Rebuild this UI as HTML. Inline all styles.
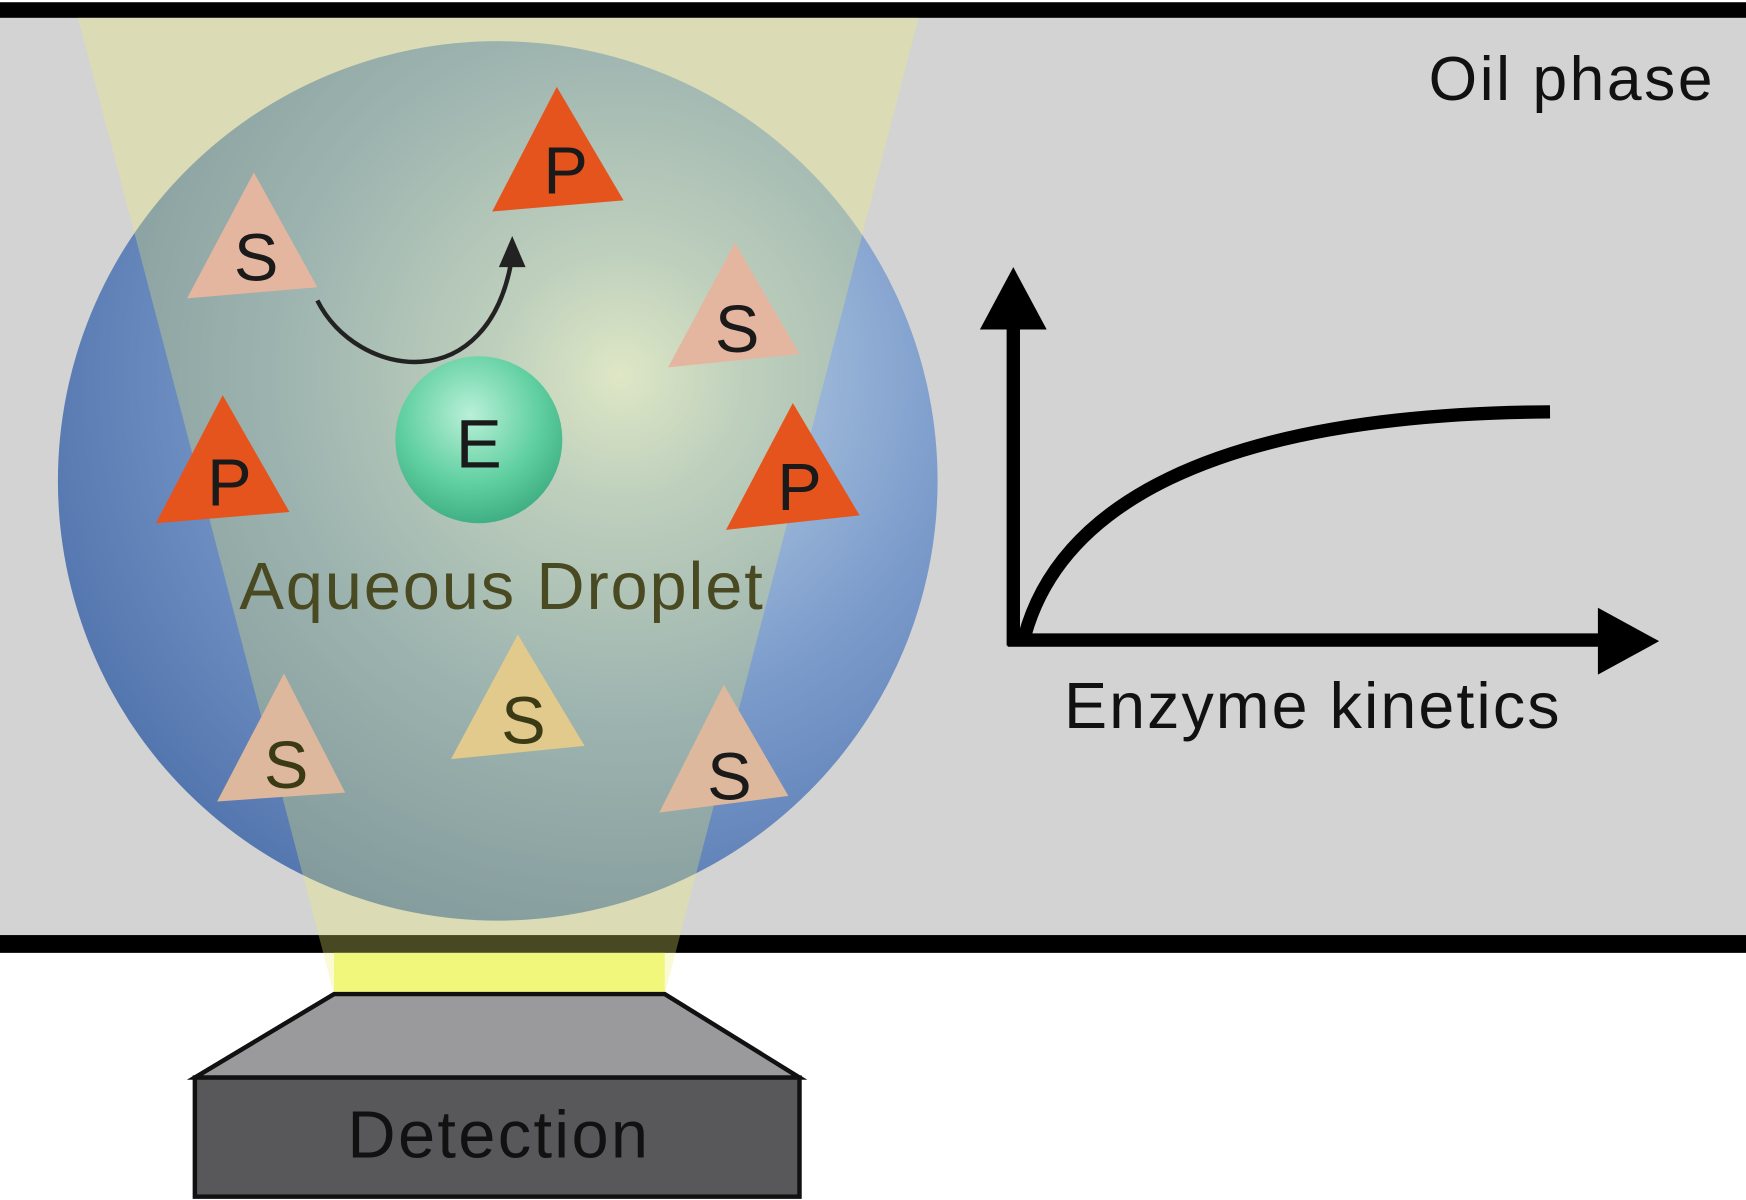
<!DOCTYPE html>
<html><head><style>html,body{margin:0;padding:0;background:#fff}svg{display:block}</style></head>
<body>
<svg width="1746" height="1200" viewBox="0 0 1568 1078" preserveAspectRatio="none" xmlns="http://www.w3.org/2000/svg" font-family="Liberation Sans, sans-serif">
<defs>
<radialGradient id="drop" cx="0.64" cy="0.38" r="0.7">
<stop offset="0" stop-color="#d8e4ea"/><stop offset="0.2" stop-color="#aac3de"/><stop offset="0.55" stop-color="#7b9bcb"/><stop offset="1" stop-color="#5274ad"/>
</radialGradient>
<radialGradient id="en" cx="0.45" cy="0.35" r="0.7">
<stop offset="0" stop-color="#b9f0d8"/><stop offset="0.6" stop-color="#5fcfa0"/><stop offset="1" stop-color="#3aa97e"/>
</radialGradient>
</defs>
<rect x="0" y="12" width="1568" height="830" fill="#d3d3d3"/>
<rect x="0" y="2" width="1568" height="14" fill="#000"/>
<rect x="0" y="840" width="1568" height="16" fill="#000"/>
<circle cx="447" cy="432" r="395" fill="url(#drop)"/>
<polygon points="70,16 825,16 597,893 300,893" fill="#eef070" opacity="0.3"/>
<polygon points="300,856 597,856 597,893 300,893" fill="#f0f77a"/>
<g font-size="60" text-anchor="middle">
<polygon points="228,155 285,258 168,268" fill="#e4b6a0"/><text x="230" y="252" fill="#1a1a1a">S</text>
<polygon points="500,78 560,180 442,190" fill="#e6541e"/><text x="508" y="174" fill="#1a1a1a">P</text>
<polygon points="660,218 718,318 600,330" fill="#e4b6a0"/><text x="662" y="316" fill="#1a1a1a">S</text>
<polygon points="200,355 260,460 140,470" fill="#e6541e"/><text x="206" y="454" fill="#1a1a1a">P</text>
<polygon points="712,362 772,463 652,476" fill="#e6541e"/><text x="718" y="458" fill="#1a1a1a">P</text>
<polygon points="255,605 310,712 195,720" fill="#ddb89c"/><text x="257" y="708" fill="#3a3a15">S</text>
<polygon points="465,570 525,670 405,682" fill="#e2c98c"/><text x="470" y="668" fill="#3a3a15">S</text>
<polygon points="650,615 708,715 592,730" fill="#ddb89c"/><text x="655" y="718" fill="#1a1a1a">S</text>
</g>
<circle cx="430" cy="395" r="75" fill="url(#en)"/>
<text x="430" y="420" font-size="62" text-anchor="middle" fill="#1a1a1a">E</text>
<path d="M285,270 C320,340 440,360 460,230" fill="none" stroke="#222" stroke-width="4"/>
<polygon points="460,212 448,240 472,240" fill="#222"/>
<text x="450" y="547" font-size="60" text-anchor="middle" fill="#4a4a22" textLength="470">Aqueous Droplet</text>
<text x="1538" y="90" font-size="56" text-anchor="end" fill="#111" textLength="255">Oil phase</text>
<path d="M910,580 V290 M905,575 H1440" stroke="#000" stroke-width="12" fill="none"/>
<polygon points="910,240 880,296 940,296" fill="#000"/>
<polygon points="1490,576 1435,546 1435,606" fill="#000"/>
<path d="M920,572 C950,460 1080,372 1392,370" fill="none" stroke="#000" stroke-width="12"/>
<text x="1178" y="654" font-size="58" text-anchor="middle" fill="#111" textLength="445">Enzyme kinetics</text>
<polygon points="300,893 597,893 718,968 175,968" fill="#9a9a9c" stroke="#111" stroke-width="4"/>
<rect x="175" y="968" width="543" height="107" fill="#58585a" stroke="#111" stroke-width="4"/>
<text x="447" y="1040" font-size="60" text-anchor="middle" fill="#111" textLength="270">Detection</text>
</svg>
</body></html>
